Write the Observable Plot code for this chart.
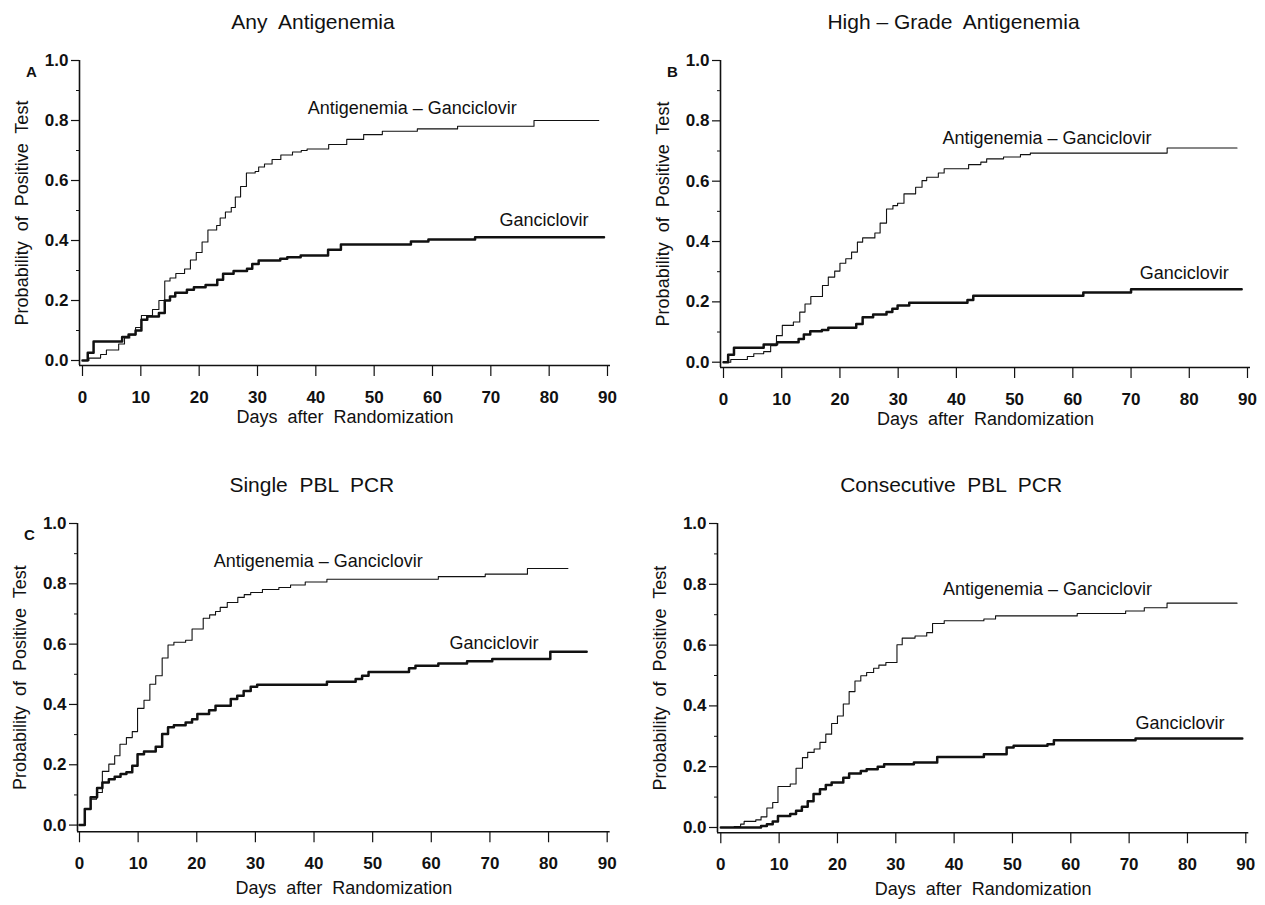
<!DOCTYPE html>
<html><head><meta charset="utf-8">
<script src="https://cdn.jsdelivr.net/npm/d3@7"></script>
<script src="https://cdn.jsdelivr.net/npm/@observablehq/plot@0.6"></script>
<style>
body{margin:0;background:#fff;}
#wrap{position:relative;width:1265px;height:905px;overflow:hidden;background:#fff;}
#wrap svg{position:absolute;}
</style></head><body><div id="wrap"></div>
<script>
// ---------- text / ticks ----------
const xTicks = [0, 10, 20, 30, 40, 50, 60, 70, 80, 90];
const yTicks = [0, 0.2, 0.4, 0.6, 0.8, 1.0];
const yMinorTicks = [0.1, 0.3, 0.5, 0.7, 0.9];
const panelTitles = ["Any  Antigenemia", "High – Grade  Antigenemia", "Single  PBL  PCR", "Consecutive  PBL  PCR"];
const panelLetters = ["A", "B", "C", ""];
const labelAg = "Antigenemia – Ganciclovir";
const labelG = "Ganciclovir";
const xTitle = "Days  after  Randomization";
const yTitle = "Probability  of  Positive  Test";

// ---------- data (Kaplan-Meier steps: day, probability) ----------
// A: Any antigenemia
const aAgDays = [0,1.1,3.1,4.1,6.2,7.2,8.1,9.1,10.1,12,13.1,14.1,15,16,17.5,18.5,19.5,20.5,21.5,23,23.6,24.5,25.5,26.2,27.1,28.1,29.6,30.2,31.2,32.5,34,36,37.5,38.5,42.2,45.3,48.2,51.4,57.4,64.3,77.4,88.5];
const aAgProb = [0,0.008,0.02,0.035,0.055,0.075,0.085,0.11,0.15,0.17,0.2,0.265,0.275,0.29,0.305,0.335,0.36,0.395,0.435,0.45,0.475,0.495,0.51,0.545,0.58,0.625,0.63,0.645,0.655,0.67,0.685,0.695,0.7,0.705,0.72,0.737,0.753,0.764,0.772,0.781,0.8,0.8];
const aGDays = [0,0.9,1.9,6.8,7.9,9.1,10.1,11.1,13.1,14.1,15,15.9,17.9,19.1,21.1,23.1,24.1,25.9,28.2,29.1,30.2,33.9,35.1,37.4,42.1,44.3,56.3,59.3,67.3,89.4];
const aGProb = [0,0.026,0.063,0.078,0.087,0.1,0.136,0.147,0.158,0.2,0.213,0.226,0.236,0.244,0.252,0.269,0.289,0.298,0.306,0.322,0.333,0.339,0.344,0.35,0.369,0.387,0.397,0.403,0.411,0.411];
// B: High-grade antigenemia
const bAgDays = [0,1.25,4.1,5.2,6.9,8.1,9.1,10.1,12,13.1,14,15,17,18,19.1,20,21,22,23,23.9,26,26.9,28,29.1,29.9,31,33,34.1,34.9,36.9,37.9,42.1,44.2,45.2,48.1,51,52.7,76.2,88.2];
const bAgProb = [0,0.009,0.019,0.028,0.035,0.055,0.088,0.122,0.133,0.166,0.193,0.218,0.254,0.282,0.302,0.328,0.343,0.365,0.398,0.412,0.428,0.461,0.508,0.519,0.527,0.558,0.58,0.602,0.613,0.627,0.641,0.655,0.663,0.674,0.68,0.688,0.693,0.71,0.71];
const bGDays = [0,0.8,1.8,6.9,9.2,12.9,13.8,14.9,16.9,18,22.8,23.9,25.7,28,29,29.9,31.9,41.9,42.9,61.8,70,89];
const bGProb = [0,0.025,0.048,0.059,0.066,0.077,0.092,0.103,0.107,0.114,0.127,0.149,0.158,0.166,0.177,0.188,0.197,0.206,0.22,0.231,0.242,0.242];
// C: Single PBL PCR
const cAgDays = [0,0.9,1.9,2.9,3.9,5,6,6.9,8,9,9.9,11,12,13,14.1,15.1,16.1,18.1,19.2,21.1,22.2,23.2,24,25.2,27,28.1,29.2,31.2,34,36,38.5,42.2,61.2,69.2,76.4,83.3];
const cAgProb = [0,0.053,0.086,0.108,0.178,0.202,0.23,0.268,0.29,0.31,0.387,0.414,0.467,0.495,0.554,0.597,0.606,0.613,0.65,0.686,0.697,0.708,0.722,0.738,0.755,0.764,0.771,0.781,0.788,0.796,0.806,0.815,0.824,0.832,0.851,0.851];
const cGDays = [0,0.9,1.9,3,3.9,5,6,7,8,9,9.9,11,13,14.1,15.1,16.1,18.1,19.2,20.1,22.1,23.2,25.8,26.9,28,29.2,30.3,42.2,47.1,48.2,49.3,56.2,57.3,61.2,66.1,70.4,80.3,86.5];
const cGProb = [0,0.053,0.092,0.123,0.141,0.152,0.16,0.169,0.175,0.197,0.235,0.244,0.26,0.302,0.324,0.331,0.34,0.351,0.368,0.381,0.396,0.418,0.429,0.445,0.459,0.465,0.475,0.484,0.495,0.508,0.52,0.528,0.536,0.543,0.551,0.575,0.575];
// D: Consecutive PBL PCR
const dAgDays = [0,2.3,3.4,4,6,6.9,7.9,8.9,9.8,11.9,12.9,14,14.9,16,17,18,19,20,21,22,23,24,25,26.2,27.1,28.3,30.2,31.1,33.3,35.3,36.3,38.3,45.1,47.1,61.1,69.4,72.6,76.5,88.5];
const dAgProb = [0,0.003,0.011,0.02,0.025,0.035,0.064,0.082,0.135,0.143,0.195,0.23,0.247,0.258,0.28,0.307,0.342,0.367,0.406,0.447,0.482,0.499,0.51,0.524,0.534,0.543,0.601,0.623,0.63,0.641,0.671,0.68,0.686,0.696,0.704,0.712,0.723,0.738,0.738];
const dGDays = [0,6.9,7.9,8.9,9.8,11.9,12.9,13.9,14.9,15.9,17,18,19,21,22,24,25,26.9,28,33.1,37.1,45.1,49,50.2,56,57.1,71.1,89.4];
const dGProb = [0,0.005,0.011,0.02,0.038,0.044,0.055,0.068,0.086,0.11,0.126,0.14,0.148,0.164,0.178,0.186,0.192,0.2,0.208,0.214,0.232,0.241,0.263,0.269,0.274,0.287,0.293,0.293];

const series = [
  {ag: [aAgDays, aAgProb], g: [aGDays, aGProb]},
  {ag: [bAgDays, bAgProb], g: [bGDays, bGProb]},
  {ag: [cAgDays, cAgProb], g: [cGDays, cGProb]},
  {ag: [dAgDays, dAgProb], g: [dGDays, dGProb]}
];

// ---------- layout (page pixels) ----------
const layout = [
  {yAxisX: 79,    x0: 82,  x90: 607,   y1: 60,    y0: 360,   xAxisY: 365, xTitleDy: 52, agPos: [38.6, 0.84],  gPos: [71.5, 0.467]},
  {yAxisX: 720,   x0: 723, x90: 1247,  y1: 60,    y0: 361.7, xAxisY: 367, xTitleDy: 52, agPos: [37.6, 0.741], gPos: [71.5, 0.294]},
  {yAxisX: 77,    x0: 79,  x90: 606.7, y1: 522.7, y0: 824.3, xAxisY: 831, xTitleDy: 56, agPos: [22.9, 0.876], gPos: [63.1, 0.604]},
  {yAxisX: 716.7, x0: 720, x90: 1245,  y1: 522.7, y0: 826.7, xAxisY: 832, xTitleDy: 56, agPos: [38.1, 0.785], gPos: [71.1, 0.344]}
];

const ink = "#111";
const font = "'Liberation Sans', Arial, Helvetica, sans-serif";
const wrap = document.getElementById("wrap");

function toRows(pair) { return pair[0].map((d, i) => ({day: d, p: pair[1][i]})); }

layout.forEach((L, i) => {
  const perDay = (L.x90 - L.x0) / 90;
  const perUnit = L.y0 - L.y1;
  const mL = 79, mT = 60, mR = 25, mB = 95;
  const xEnd = L.x90 + 3;
  const width = mL + (xEnd - L.yAxisX) + mR;
  const height = mT + (L.xAxisY - L.y1) + mB;
  const xDom = [-(L.x0 - L.yAxisX) / perDay, 90 + 3 / perDay];
  const yDom = [-(L.xAxisY - L.y0) / perUnit, 1];
  const S = series[i];
  const plot = Plot.plot({
    width, height,
    marginLeft: mL, marginTop: mT, marginRight: mR, marginBottom: mB,
    x: {domain: xDom},
    y: {domain: yDom},
    style: {fontFamily: font, fontSize: "18px", color: ink, background: "transparent", overflow: "visible"},
    marks: [
      Plot.ruleX([xDom[0]], {y1: yDom[0], y2: 1, stroke: ink, strokeWidth: 1.6}),
      Plot.ruleY([yDom[0]], {x1: xDom[0], x2: xDom[1], stroke: ink, strokeWidth: 1.6}),
      Plot.axisY(yTicks, {anchor: "left", tickSize: 8, tickPadding: 3, tickFormat: d3.format(".1f"), fontWeight: "bold", fontSize: 17, label: null, stroke: ink, strokeWidth: 1.2}),
      Plot.axisY(yMinorTicks, {anchor: "left", tickSize: 3, tickFormat: () => "", label: null, stroke: ink}),
      Plot.axisX(xTicks, {anchor: "bottom", tickSize: 11, tickPadding: 14, fontWeight: "bold", fontSize: 17, label: null, stroke: ink, strokeWidth: 1.2}),
      Plot.line(toRows(S.ag), {x: "day", y: "p", curve: "step-after", stroke: ink, strokeWidth: 1.1}),
      Plot.line(toRows(S.g), {x: "day", y: "p", curve: "step-after", stroke: ink, strokeWidth: 2.5}),
      Plot.text([labelAg], {x: L.agPos[0], y: L.agPos[1], text: d => d, textAnchor: "start", fontSize: 18, fill: ink}),
      Plot.text([labelG], {x: L.gPos[0], y: L.gPos[1], text: d => d, textAnchor: "start", fontSize: 18, fill: ink}),
      Plot.text([panelTitles[i]], {frameAnchor: "top", dx: -32, dy: -38, lineAnchor: "middle", textAnchor: "middle", text: d => d, fontSize: 21, fill: ink}),
      Plot.text([yTitle], {frameAnchor: "left", rotate: -90, dx: -57, textAnchor: "middle", lineAnchor: "middle", text: d => d, fontSize: 18, fill: ink}),
      Plot.text([xTitle], {frameAnchor: "bottom", dy: L.xTitleDy, lineAnchor: "middle", textAnchor: "middle", text: d => d, fontSize: 18, fill: ink}),
      Plot.text([panelLetters[i]], {frameAnchor: "top-left", dx: -48, dy: 12, lineAnchor: "middle", textAnchor: "middle", text: d => d, fontWeight: "bold", fontSize: 15, fill: ink})
    ]
  });
  plot.style.left = (L.yAxisX - mL) + "px";
  plot.style.top = (L.y1 - mT) + "px";
  plot.style.maxWidth = "none";
  plot.style.whiteSpace = "pre";
  plot.querySelectorAll("text").forEach(t => t.setAttribute("xml:space", "preserve"));
  wrap.appendChild(plot);
});
</script></body></html>
